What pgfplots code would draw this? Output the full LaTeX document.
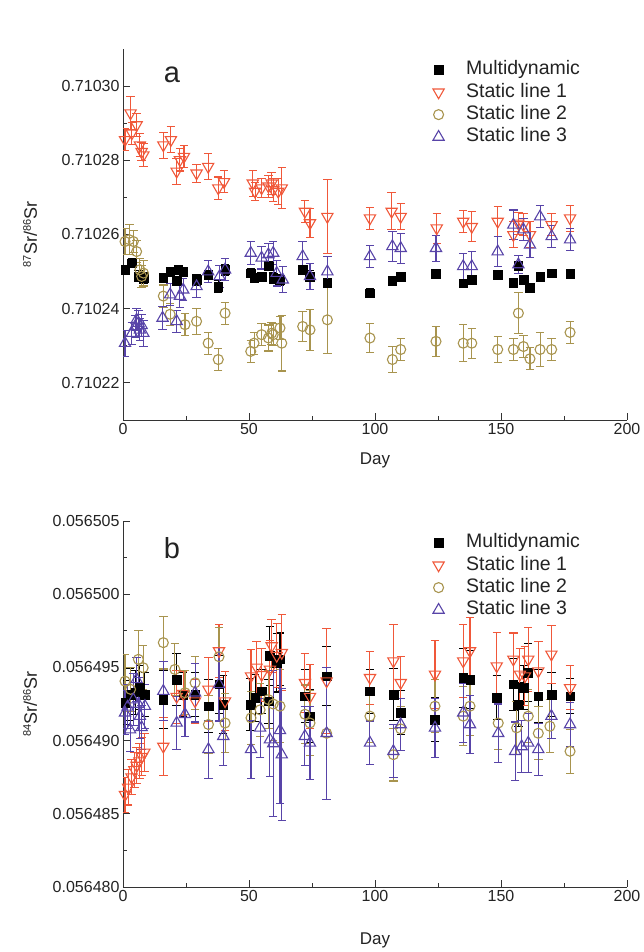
\documentclass[border=0pt]{standalone}
\usepackage{pgfplots}
\pgfplotsset{compat=1.18}
\usepackage{fontspec}
\setmainfont{Liberation Sans}
\definecolor{cRed}{RGB}{240,88,58}
\definecolor{cOli}{RGB}{168,148,78}
\definecolor{cPur}{RGB}{88,68,168}
\definecolor{txt}{RGB}{35,35,35}
\pgfplotsset{
  base/.style={
    scale only axis, width=504pt, xmin=0, xmax=200,
    axis lines=left, axis line style={-, line width=0.8pt, black!80},
    tick align=inside, major tick length=7pt, minor tick length=4pt,
    minor x tick num=1, minor y tick num=1, xtick={0,50,...,200},
    tick style={line width=0.8pt, black!80},
    tick label style={font=\fontsize{16}{18}\selectfont, text=txt},
    /pgf/number format/assume math mode=true,
    scaled y ticks=false,
    label style={font=\fontsize{17}{19}\selectfont, text=txt},
    legend style={draw=none, fill=none, font=\fontsize{19.5}{21}\selectfont, text=txt,
      anchor=north west, inner sep=0pt, outer sep=0pt, row sep=0pt,
      nodes={inner sep=2pt, text height=14pt, text depth=4.4pt},
      /tikz/every odd column/.append style={column sep=20pt}},
    legend cell align=left,
  },
  errs/.style={error bars/y dir=both, error bars/y explicit,
    error bars/error bar style={#1, line width=1.05pt},
    error bars/error mark options={rotate=90, mark size=4.2pt, #1, line width=1.05pt}},
  multi/.style={only marks, mark=square*, mark size=4.3pt, mark options={black, fill=black}, errs=black},
  sl1/.style={only marks, mark=triangle, mark size=6.5pt, mark options={cRed, rotate=180, line width=1.1pt}, errs=cRed},
  sl2/.style={only marks, mark=o, mark size=5pt, mark options={cOli, line width=1.1pt}, errs=cOli},
  sl3/.style={only marks, mark=triangle, mark size=6.5pt, mark options={cPur, line width=1.1pt}, errs=cPur},
}
\begin{document}
\begin{tikzpicture}[x=1pt,y=1pt]
\path[use as bounding box] (0,0) rectangle (643,952);
% ---------------- panel a ----------------
\begin{axis}[base, at={(123pt,532pt)}, anchor=south west, height=371pt,
  ymin=0.71021, ymax=0.71031, ytick={0.71022,0.71024,0.71026,0.71028,0.71030},
  yticklabel style={/pgf/number format/.cd, fixed, fixed zerofill, precision=5},
  xlabel={Day}, ylabel={{\fontsize{11}{11}\selectfont\raisebox{6pt}{87}}Sr/{\fontsize{11}{11}\selectfont\raisebox{6pt}{86}}Sr},
  xlabel style={at={(axis description cs:0.5,-0.11)}, anchor=center},
  ylabel style={at={(axis description cs:-0.1845,0.5)}, anchor=center, font=\fontsize{18}{20}\selectfont},
  legend style={at={(axis description cs:0.615,0.974)}},
]
\addplot[multi] table[x index=0, y index=1, y error index=2] {
0.8 0.7102505 0.0000012
3.5 0.7102523 0.0000012
6.1 0.7102487 0.0000015
8.1 0.7102483 0.0000015
16.0 0.7102483 0.0000012
18.7 0.7102500 0.0000012
21.3 0.7102474 0.0000012
21.9 0.7102505 0.0000012
23.9 0.7102500 0.0000012
29.2 0.7102478 0.0000015
33.8 0.7102492 0.0000012
37.8 0.7102460 0.0000015
40.5 0.7102505 0.0000015
50.7 0.7102496 0.0000012
52.0 0.7102483 0.0000012
55.0 0.7102487 0.0000010
57.7 0.7102514 0.0000012
59.6 0.7102483 0.0000015
62.3 0.7102478 0.0000015
71.3 0.7102505 0.0000012
74.2 0.7102487 0.0000015
81.1 0.7102469 0.0000012
98.0 0.7102442 0.0000012
106.9 0.7102474 0.0000012
110.2 0.7102487 0.0000010
124.2 0.7102494 0.0000012
135.0 0.7102469 0.0000010
138.4 0.7102478 0.0000012
148.7 0.7102492 0.0000012
154.9 0.7102469 0.0000012
156.9 0.7102514 0.0000012
158.9 0.7102478 0.0000012
161.5 0.7102456 0.0000012
165.5 0.7102487 0.0000008
170.1 0.7102496 0.0000008
177.4 0.7102494 0.0000008
};
\addlegendentry{Multidynamic}
\addplot[sl1] table[x index=0, y index=1, y error index=2] {
0.8 0.7102855 0.0000030
3.0 0.7102927 0.0000045
3.5 0.7102873 0.0000030
5.4 0.7102895 0.0000030
6.7 0.7102841 0.0000030
7.4 0.7102823 0.0000025
8.1 0.7102814 0.0000030
16.0 0.7102841 0.0000035
19.0 0.7102855 0.0000035
21.3 0.7102770 0.0000035
22.6 0.7102801 0.0000030
24.2 0.7102810 0.0000030
29.2 0.7102765 0.0000025
33.8 0.7102783 0.0000035
37.8 0.7102725 0.0000030
40.1 0.7102742 0.0000030
51.5 0.7102738 0.0000035
52.4 0.7102716 0.0000025
55.0 0.7102725 0.0000025
57.7 0.7102730 0.0000030
59.0 0.7102738 0.0000030
59.6 0.7102720 0.0000030
61.6 0.7102716 0.0000035
63.0 0.7102725 0.0000055
72.2 0.7102662 0.0000030
74.2 0.7102631 0.0000040
81.1 0.7102648 0.0000100
98.0 0.7102644 0.0000030
106.6 0.7102662 0.0000050
110.2 0.7102648 0.0000035
124.5 0.7102617 0.0000040
135.0 0.7102635 0.0000030
138.4 0.7102621 0.0000040
148.7 0.7102635 0.0000040
154.9 0.7102599 0.0000035
156.9 0.7102630 0.0000030
158.9 0.7102626 0.0000030
161.5 0.7102599 0.0000035
170.1 0.7102626 0.0000030
177.4 0.7102644 0.0000035
};
\addlegendentry{Static line 1}
\addplot[sl2] table[x index=0, y index=1, y error index=2] {
0.8 0.7102581 0.0000035
2.5 0.7102586 0.0000040
4.1 0.7102581 0.0000030
5.4 0.7102554 0.0000030
6.7 0.7102505 0.0000030
7.4 0.7102487 0.0000030
8.1 0.7102496 0.0000035
16.0 0.7102434 0.0000030
18.7 0.7102385 0.0000030
24.6 0.7102357 0.0000030
29.2 0.7102366 0.0000035
33.8 0.7102307 0.0000030
37.8 0.7102263 0.0000030
40.5 0.7102388 0.0000030
50.7 0.7102285 0.0000030
52.0 0.7102307 0.0000030
55.0 0.7102330 0.0000030
57.7 0.7102321 0.0000035
59.0 0.7102334 0.0000030
59.6 0.7102330 0.0000030
62.3 0.7102348 0.0000030
63.0 0.7102307 0.0000075
71.3 0.7102352 0.0000040
74.2 0.7102343 0.0000055
81.1 0.7102370 0.0000090
98.0 0.7102321 0.0000040
106.9 0.7102263 0.0000035
110.2 0.7102290 0.0000030
124.2 0.7102312 0.0000040
135.0 0.7102307 0.0000050
138.4 0.7102307 0.0000040
148.7 0.7102290 0.0000035
154.9 0.7102290 0.0000030
156.9 0.7102388 0.0000055
158.9 0.7102298 0.0000030
161.5 0.7102265 0.0000030
165.5 0.7102290 0.0000045
170.1 0.7102290 0.0000030
177.4 0.7102336 0.0000030
};
\addlegendentry{Static line 2}
\addplot[sl3] table[x index=0, y index=1, y error index=2] {
0.8 0.7102307 0.0000035
3.5 0.7102334 0.0000030
4.8 0.7102352 0.0000030
5.4 0.7102370 0.0000030
6.1 0.7102361 0.0000035
6.7 0.7102343 0.0000030
7.4 0.7102355 0.0000030
8.1 0.7102334 0.0000035
15.7 0.7102375 0.0000030
18.7 0.7102438 0.0000030
21.3 0.7102366 0.0000030
22.6 0.7102434 0.0000030
23.9 0.7102451 0.0000030
29.2 0.7102460 0.0000030
33.8 0.7102500 0.0000030
38.3 0.7102487 0.0000030
40.5 0.7102505 0.0000030
50.7 0.7102550 0.0000030
55.0 0.7102537 0.0000030
57.7 0.7102546 0.0000030
59.6 0.7102550 0.0000030
61.0 0.7102496 0.0000035
63.4 0.7102478 0.0000035
71.3 0.7102541 0.0000040
74.2 0.7102487 0.0000035
81.1 0.7102500 0.0000040
98.0 0.7102541 0.0000030
106.9 0.7102568 0.0000040
110.2 0.7102563 0.0000040
124.2 0.7102563 0.0000035
135.0 0.7102514 0.0000035
138.4 0.7102514 0.0000040
148.7 0.7102554 0.0000040
154.9 0.7102626 0.0000040
156.9 0.7102519 0.0000025
158.9 0.7102613 0.0000030
161.5 0.7102572 0.0000035
165.5 0.7102648 0.0000030
170.1 0.7102595 0.0000030
177.4 0.7102586 0.0000030
};
\addlegendentry{Static line 3}
\node[font=\fontsize{29}{31}\selectfont, text=txt] at (axis description cs:0.097,0.93) {a};
\node[font=\fontsize{13}{15}\selectfont, text=txt] at (axis description cs:-0.0615,1.0566) {Figure 1};
\end{axis}
% ---------------- panel b ----------------
\begin{axis}[base, at={(123pt,65pt)}, anchor=south west, height=366pt,
  ymin=0.056480, ymax=0.056505, ytick={0.056480,0.056485,0.056490,0.056495,0.056500,0.056505},
  yticklabel style={/pgf/number format/.cd, fixed, fixed zerofill, precision=6},
  xlabel={Day}, ylabel={{\fontsize{11}{11}\selectfont\raisebox{6pt}{84}}Sr/{\fontsize{11}{11}\selectfont\raisebox{6pt}{86}}Sr},
  xlabel style={at={(axis description cs:0.5,-0.145)}, anchor=center},
  ylabel style={at={(axis description cs:-0.1845,0.5)}, anchor=center, font=\fontsize{18}{20}\selectfont},
  legend style={at={(axis description cs:0.615,0.971)}},
]
\addplot[multi] table[x index=0, y index=1, y error index=2] {
0.8 0.05649260 0.0000015
2.8 0.05649315 0.0000018
5.0 0.05649330 0.0000015
6.7 0.05649360 0.0000015
8.7 0.05649315 0.0000015
16.0 0.05649281 0.0000020
21.3 0.05649418 0.0000018
23.9 0.05649315 0.0000015
28.6 0.05649315 0.0000015
33.9 0.05649235 0.0000018
38.1 0.05649384 0.0000020
39.8 0.05649247 0.0000020
50.4 0.05649247 0.0000018
52.4 0.05649292 0.0000016
55.0 0.05649338 0.0000015
57.7 0.05649270 0.0000015
58.3 0.05649578 0.0000020
61.0 0.05649532 0.0000020
62.3 0.05649555 0.0000018
72.2 0.05649304 0.0000018
74.2 0.05649167 0.0000018
80.8 0.05649440 0.0000020
98.0 0.05649338 0.0000015
107.3 0.05649315 0.0000018
110.2 0.05649190 0.0000015
123.8 0.05649144 0.0000015
135.0 0.05649429 0.0000020
137.7 0.05649418 0.0000020
148.3 0.05649292 0.0000015
154.9 0.05649384 0.0000018
156.9 0.05649247 0.0000015
158.9 0.05649361 0.0000015
160.8 0.05649464 0.0000020
164.8 0.05649304 0.0000018
170.0 0.05649315 0.0000015
177.4 0.05649304 0.0000012
};
\addlegendentry{Multidynamic}
\addplot[sl1] table[x index=0, y index=1, y error index=2] {
0.8 0.05648630 0.0000012
2.0 0.05648680 0.0000012
3.4 0.05648750 0.0000012
4.5 0.05648800 0.0000012
5.4 0.05648830 0.0000012
6.5 0.05648860 0.0000012
7.5 0.05648890 0.0000013
8.5 0.05648920 0.0000013
16.0 0.05648960 0.0000020
21.3 0.05649300 0.0000018
23.9 0.05649320 0.0000015
28.6 0.05649270 0.0000015
33.9 0.05649350 0.0000022
38.1 0.05649612 0.0000018
40.5 0.05649270 0.0000020
50.8 0.05649440 0.0000018
53.0 0.05649500 0.0000018
55.0 0.05649450 0.0000018
58.3 0.05649486 0.0000020
59.0 0.05649646 0.0000018
61.0 0.05649580 0.0000022
63.0 0.05649600 0.0000026
72.2 0.05649395 0.0000020
74.2 0.05649300 0.0000022
80.8 0.05649406 0.0000036
98.0 0.05649429 0.0000018
107.3 0.05649543 0.0000025
110.2 0.05649395 0.0000018
123.8 0.05649452 0.0000023
135.0 0.05649543 0.0000025
137.7 0.05649612 0.0000023
148.3 0.05649509 0.0000023
154.9 0.05649555 0.0000018
157.5 0.05649452 0.0000018
159.5 0.05649440 0.0000020
160.8 0.05649555 0.0000022
164.8 0.05649475 0.0000020
170.0 0.05649589 0.0000020
177.4 0.05649360 0.0000015
};
\addlegendentry{Static line 1}
\addplot[sl2] table[x index=0, y index=1, y error index=2] {
0.8 0.05649406 0.0000018
3.0 0.05649350 0.0000015
6.1 0.05649555 0.0000020
8.0 0.05649498 0.0000015
16.0 0.05649669 0.0000018
20.6 0.05649486 0.0000018
24.6 0.05649327 0.0000015
28.6 0.05649395 0.0000018
33.9 0.05649110 0.0000020
38.1 0.05649573 0.0000020
40.5 0.05649120 0.0000020
50.8 0.05649155 0.0000018
54.4 0.05649210 0.0000018
57.7 0.05649280 0.0000020
59.6 0.05649250 0.0000025
62.3 0.05649235 0.0000025
72.2 0.05649180 0.0000020
74.2 0.05649120 0.0000022
80.8 0.05649050 0.0000045
98.0 0.05649167 0.0000018
107.3 0.05648904 0.0000018
110.2 0.05649080 0.0000015
123.8 0.05649235 0.0000018
135.0 0.05649167 0.0000020
137.7 0.05649235 0.0000020
148.9 0.05649120 0.0000018
156.2 0.05649087 0.0000018
160.8 0.05649167 0.0000018
164.8 0.05649050 0.0000018
169.4 0.05649098 0.0000018
177.4 0.05648927 0.0000015
};
\addlegendentry{Static line 2}
\addplot[sl3] table[x index=0, y index=1, y error index=2] {
0.8 0.05649190 0.0000015
1.8 0.05649230 0.0000015
2.8 0.05649075 0.0000015
4.1 0.05649280 0.0000018
5.4 0.05649418 0.0000015
6.1 0.05649250 0.0000018
6.7 0.05649167 0.0000015
7.4 0.05649090 0.0000015
8.7 0.05649235 0.0000015
16.0 0.05649338 0.0000020
21.3 0.05649121 0.0000018
24.6 0.05649180 0.0000015
28.6 0.05649327 0.0000020
33.9 0.05648940 0.0000020
38.1 0.05649384 0.0000025
39.8 0.05649030 0.0000020
50.8 0.05648940 0.0000020
54.4 0.05649087 0.0000020
58.3 0.05649007 0.0000025
59.6 0.05648980 0.0000050
62.3 0.05649070 0.0000050
63.0 0.05648904 0.0000045
72.2 0.05649030 0.0000020
74.2 0.05648984 0.0000025
80.8 0.05649050 0.0000045
98.0 0.05648984 0.0000015
107.3 0.05648927 0.0000018
110.2 0.05649110 0.0000018
123.8 0.05649087 0.0000020
135.0 0.05649190 0.0000020
137.7 0.05649110 0.0000020
148.9 0.05649050 0.0000020
155.6 0.05648927 0.0000020
158.2 0.05648960 0.0000018
160.8 0.05648984 0.0000020
164.8 0.05648940 0.0000018
170.0 0.05649167 0.0000015
177.4 0.05649110 0.0000015
};
\addlegendentry{Static line 3}
\node[font=\fontsize{29}{31}\selectfont, text=txt] at (axis description cs:0.097,0.926) {b};
\end{axis}
\end{tikzpicture}
\end{document}
